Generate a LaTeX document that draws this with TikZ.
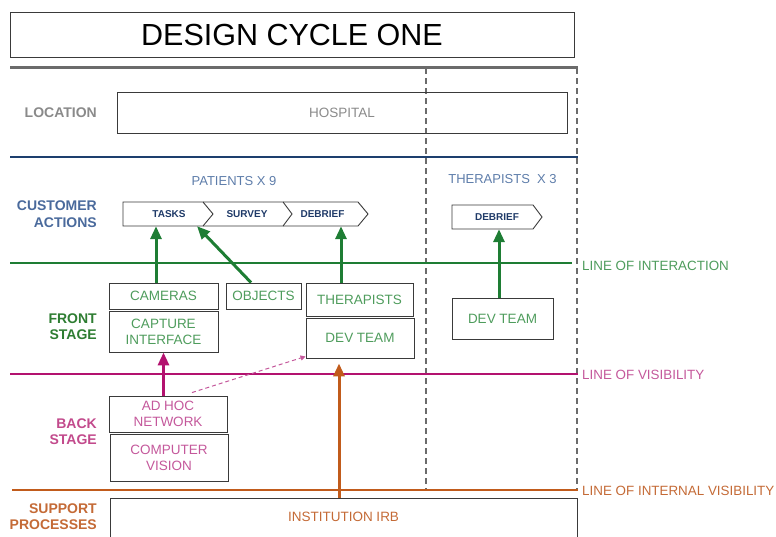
\documentclass[tikz,border=0pt]{standalone}
\usepackage{fontspec}
\setmainfont{Liberation Sans}
\usetikzlibrary{arrows.meta}
\definecolor{framegray}{HTML}{6B6B6B}
\definecolor{boxline}{HTML}{3A3A3A}
\definecolor{locgray}{HTML}{8A8A8A}
\definecolor{navyline}{HTML}{1D3F6E}
\definecolor{navytext}{HTML}{4A6A9C}
\definecolor{navylight}{HTML}{5E7DAA}
\definecolor{chevtext}{HTML}{1F3A68}
\definecolor{greenline}{HTML}{1E7D34}
\definecolor{greentext}{HTML}{4E9C5C}
\definecolor{greenlabel}{HTML}{2E7D32}
\definecolor{pinkline}{HTML}{B3126F}
\definecolor{pinktext}{HTML}{C4589B}
\definecolor{pinklabel}{HTML}{C24A8C}
\definecolor{orangeline}{HTML}{C15B1B}
\definecolor{orangetext}{HTML}{C46A36}

\tikzset{
  box/.style={draw=boxline, line width=0.9pt, inner sep=0pt, align=center,
    font=\fontsize{13.5}{16}\selectfont},
  lane/.style={anchor=east, align=right, inner sep=0pt,
    font=\bfseries\fontsize{14}{16.5}\selectfont},
  linelabel/.style={anchor=west, inner sep=0pt, font=\fontsize{13.4}{16}\selectfont},
  grouplabel/.style={inner sep=0pt, text=navylight, font=\fontsize{13}{16}\selectfont},
  chev/.style={inner sep=0pt, minimum height=24pt, text=chevtext,
    font=\bfseries\fontsize{10}{12}\selectfont},
  chevline/.style={draw=boxline, line width=0.9pt, line join=miter},
  divider/.style={draw=framegray, line width=1.5pt, dash pattern=on 6pt off 4pt},
  lanerule/.style={line width=2.8pt},
  flow/.style={line width=3pt, -{Triangle[width=11pt,length=13pt]}},
  garrow/.style={flow, draw=greenline},
  parrow/.style={flow, draw=pinkline},
  oarrow/.style={flow, draw=orangeline},
  pdash/.style={draw=pinktext, line width=1pt, dash pattern=on 4pt off 3pt,
    -{Triangle[width=5pt,length=5pt]}},
}

\begin{document}
\begin{tikzpicture}[x=1pt,y=-1pt]
\useasboundingbox (0,0) rectangle (776,536);

% title
\node[box, minimum width=564pt, minimum height=45pt,
      font=\fontsize{30.5}{34}\selectfont] (title) at (292,34.5) {DESIGN CYCLE ONE};

% frame: top rule and the two dashed column dividers
\draw[framegray, line width=2.2pt] (10,67.5) -- (578,67.5);
\draw[divider] (426,68) -- (426,490);
\draw[divider] (577,68) -- (577,490);

% location lane
\node[lane, text=locgray] (loclabel) at (97,113) {LOCATION};
\node[box, minimum width=450pt, minimum height=41pt, text=locgray] (hospital) at (342,112.5) {HOSPITAL};

% customer actions lane
\draw[navyline, lanerule] (10,157) -- (578,157);
\node[lane, text=navytext] (custlabel) at (97,214) {CUSTOMER\\ACTIONS};
\node[grouplabel] (patients) at (234,181) {PATIENTS X 9};
\node[grouplabel] (therapistsx) at (502.5,179) {THERAPISTS\ \ X 3};

% patient journey chevrons
\draw[chevline] (123,202) -- (203,202) -- (213,214) -- (203,226) -- (123,226) -- cycle;
\draw[chevline] (203,202) -- (283,202) -- (292,214) -- (283,226) -- (203,226);
\draw[chevline] (283,202) -- (358,202) -- (368,214) -- (358,226) -- (283,226);
\node[chev] (tasks) at (169,214) {TASKS};
\node[chev] (survey) at (247,214) {SURVEY};
\node[chev] (debrief) at (322.5,214) {DEBRIEF};

% therapist chevron
\draw[chevline] (452,205) -- (533,205) -- (542,217) -- (533,229) -- (452,229) -- cycle;
\node[chev] (tdebrief) at (497,217) {DEBRIEF};

% line of interaction
\draw[greenline, lanerule] (10,263) -- (572,263);
\node[linelabel, text=greentext] (interaction) at (582,266) {LINE OF INTERACTION};

% front stage lane
\node[lane, text=greenlabel] (frontlabel) at (97,326.5) {FRONT\\STAGE};
\node[box, minimum width=109pt, minimum height=26pt, text=greentext] (cameras) at (163.5,296) {CAMERAS};
\node[box, minimum width=109pt, minimum height=41pt, text=greentext] (capture) at (163.5,331.5) {CAPTURE\\INTERFACE};
\node[box, minimum width=75pt, minimum height=26pt, text=greentext] (objects) at (263.5,296) {OBJECTS};
\node[box, minimum width=107pt, minimum height=33pt, text=greentext] (therapists) at (359.5,299.5) {THERAPISTS};
\node[box, minimum width=108pt, minimum height=40pt, text=greentext] (devteam) at (360,338) {DEV TEAM};
\node[box, minimum width=101pt, minimum height=41pt, text=greentext] (tdevteam) at (502.5,318.5) {DEV TEAM};

\draw[garrow] ([xshift=-7.5pt]cameras.north) -- ([xshift=-7.5pt]cameras.north |- tasks.south);
\draw[garrow] ([xshift=-12.5pt]objects.north) -- ([xshift=28pt]tasks.south);
\draw[garrow] ([xshift=-18.5pt]therapists.north) -- ([xshift=-18.5pt]therapists.north |- debrief.south);
\draw[garrow] ([xshift=-3.5pt]tdevteam.north) -- ([xshift=-3.5pt]tdevteam.north |- tdebrief.south);

% line of visibility
\draw[pinkline, lanerule] (10,374) -- (578,374);
\node[linelabel, text=pinktext] (visibility) at (582,375) {LINE OF VISIBILITY};

% back stage lane
\node[lane, text=pinklabel] (backlabel) at (97,431.5) {BACK\\STAGE};
\node[box, minimum width=118pt, minimum height=36pt, text=pinktext] (adhoc) at (168,414) {AD HOC\\NETWORK};
\node[box, minimum width=118pt, minimum height=47pt, text=pinktext] (vision) at (169,457.5) {COMPUTER\\VISION};

\draw[parrow] (capture.south |- adhoc.north) -- (capture.south);
\draw[pdash] ([xshift=24pt,yshift=3pt]adhoc.north) -- ([yshift=2pt]devteam.south west);

% line of internal visibility
\draw[orangeline, lanerule] (12,490) -- (578,490);
\node[linelabel, text=orangetext] (internal) at (582,491) {LINE OF INTERNAL VISIBILITY};

% support processes lane
\node[lane, text=orangetext] (supportlabel) at (97,516.5) {SUPPORT\\PROCESSES};
\node[box, minimum width=467pt, minimum height=52pt, anchor=north] (irb) at (343.5,498) {};
\node[inner sep=0pt, text=orangetext, font=\fontsize{13.5}{16}\selectfont] (irbtext) at (343.5,517) {INSTITUTION IRB};

\draw[oarrow, shorten >=5pt] ([xshift=-4.5pt]irb.north) -- ([xshift=-4.5pt]irb.north |- devteam.south);

\end{tikzpicture}
\end{document}
